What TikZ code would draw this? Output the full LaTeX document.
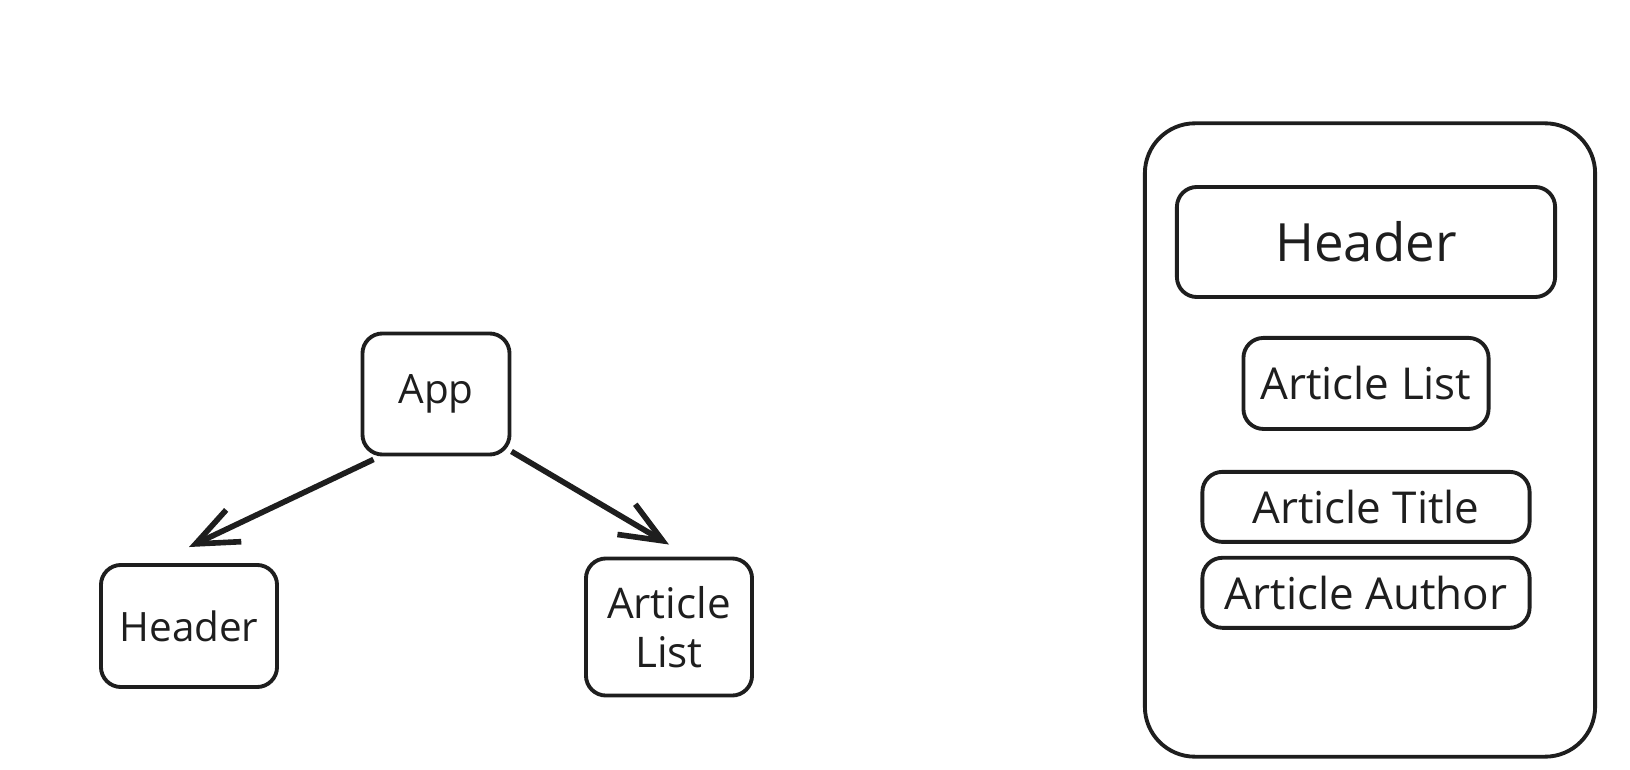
\documentclass[tikz,border=0pt]{standalone}
\usepackage{fontspec}
\setmainfont{Open Sans}
\usepackage{xcolor}
\usetikzlibrary{positioning,arrows.meta}
\definecolor{ink}{HTML}{1E1E1E}

\begin{document}
\begin{tikzpicture}[x=0.01cm, y=-0.01cm, >={Straight Barb[length=12pt,width=10pt]}, node distance=0.4cm,
    box/.style={draw=ink, line width=1.1pt, rounded corners=0.2cm, text=ink, align=center, font=\fontsize{11.5}{14}\selectfont},
    link/.style={->, draw=ink, line width=1.6pt}]
    \useasboundingbox (0,0) rectangle (1630,770);
    % component tree
    \node[box, minimum width=1.47cm, minimum height=1.21cm] (app) at (436,394) {App};
    \node[box, minimum width=1.76cm, minimum height=1.22cm] (hdr) at (189,626) {Header};
    \node[box, minimum width=1.66cm, minimum height=1.37cm, font=\fontsize{12}{14}\selectfont] (lst) at (669,627) {Article\\List};
    \draw[link] ([xshift=0.13cm,yshift=-0.03cm]app.south west) -- ([yshift=0.16cm]hdr.north);
    \draw[link] ([yshift=0.05cm]app.south east) -- ([yshift=0.12cm]lst.north);
    % page layout
    \node[box, rounded corners=0.5cm, minimum width=4.5cm, minimum height=6.33cm] (page) at (1370,440) {};
    \node[box, minimum width=3.78cm, minimum height=1.1cm, font=\fontsize{15}{18}\selectfont] (phdr) at (1366,242) {Header};
    \node[box, minimum width=2.45cm, minimum height=0.91cm, below=0.37cm of phdr, font=\fontsize{12.5}{15}\selectfont] (plst) {Article List};
    \node[box, minimum width=3.27cm, minimum height=0.7cm, below=0.39cm of plst, font=\fontsize{12.5}{15}\selectfont] (ptitle) {Article Title};
    \node[box, minimum width=3.27cm, minimum height=0.7cm, below=0.12cm of ptitle, font=\fontsize{12.5}{15}\selectfont] (pauthor) {Article Author};
\end{tikzpicture}
\end{document}
